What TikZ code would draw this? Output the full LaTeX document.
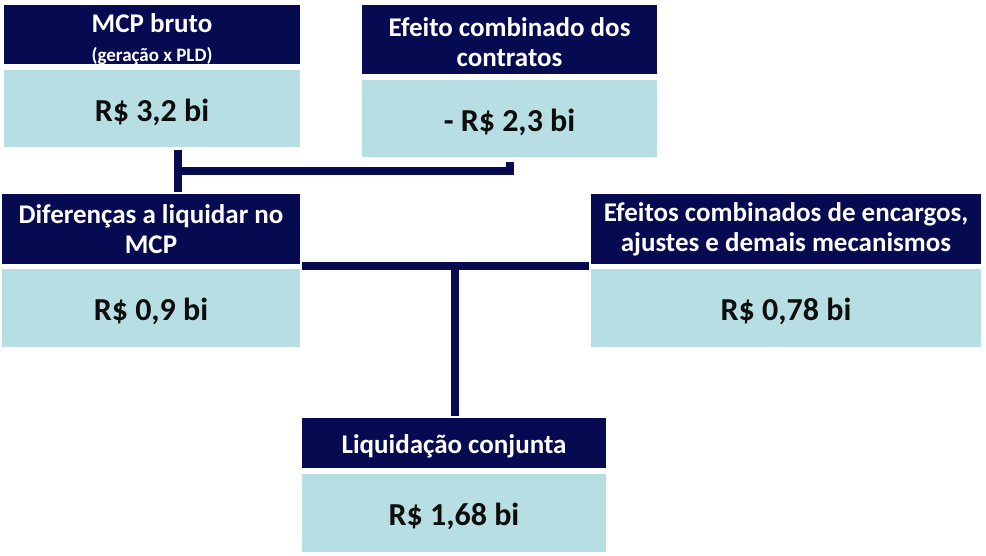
\documentclass[tikz,border=0pt]{standalone}
\usepackage{fontspec}
\setmainfont{Carlito}
\definecolor{navy}{RGB}{6,10,80}
\definecolor{lightbox}{RGB}{183,222,226}
\definecolor{valtext}{RGB}{13,13,13}
\begin{document}
\begin{tikzpicture}[x=1pt,y=-1pt,
  header/.style={fill=navy,text=white,inner sep=0pt,align=center,font=\bfseries\fontsize{27}{30}\selectfont},
  subtitle/.style={text=white,inner sep=0pt,anchor=base,font=\bfseries\fontsize{19}{22}\selectfont},
  valuebox/.style={fill=lightbox,text=valtext,inner sep=0pt,align=center,text height=27pt,text depth=2pt,font=\bfseries\fontsize{32}{36}\selectfont},
  conn/.style={draw=navy,line width=8pt}]
\useasboundingbox[fill=white] (0,0) rectangle (986,555);

\node[header,minimum width=296pt,minimum height=59pt,text height=0pt,text depth=5pt] (h1) at (152,34.5) {MCP bruto};
\node[subtitle] (h1sub) at (h1.center |- 0,61.5) {(geração x PLD)};
\node[valuebox,minimum width=296pt,minimum height=77pt] (v1) at (152,108.5) {R\$ 3,2 bi};

\node[header,minimum width=295pt,minimum height=69pt] (h2) at (509.5,39.5) {\rule{0pt}{24pt}Efeito combinado dos\\contratos};
\node[valuebox,minimum width=295pt,minimum height=77pt] (v2) at (509.5,118.5) {- R\$ 2,3 bi};

\node[header,minimum width=298pt,minimum height=70pt] (h3) at (151,229) {Diferenças a liquidar no\\MCP};
\node[valuebox,minimum width=298pt,minimum height=78pt] (v3) at (151,308) {R\$ 0,9 bi};

\node[header,minimum width=390pt,minimum height=70pt] (h4) at (786,229) {Efeitos combinados de encargos,\\ajustes e demais mecanismos};
\node[valuebox,minimum width=390pt,minimum height=78pt] (v4) at (786,308) {R\$ 0,78 bi};

\node[header,minimum width=304pt,minimum height=50pt,text height=23pt,text depth=2pt] (h5) at (454,443) {Liquidação conjunta};
\node[valuebox,minimum width=304pt,minimum height=78pt] (v5) at (454,513) {R\$ 1,68 bi};

\coordinate (j1) at (178,171);
\coordinate (j2) at (510,162);
\coordinate (j3) at (455,266);

\draw[conn] ([yshift=-3pt]v1.south -| j1) -- ([yshift=2pt]h3.north -| j1);
\draw[conn] ([xshift=-4pt]j1) -| (j2);
\draw[conn] ([xshift=2pt]h3.east |- j3) -- ([xshift=-2pt]h4.west |- j3);
\draw[conn] (j3) -- ([yshift=2pt]h5.north -| j3);
\end{tikzpicture}
\end{document}
